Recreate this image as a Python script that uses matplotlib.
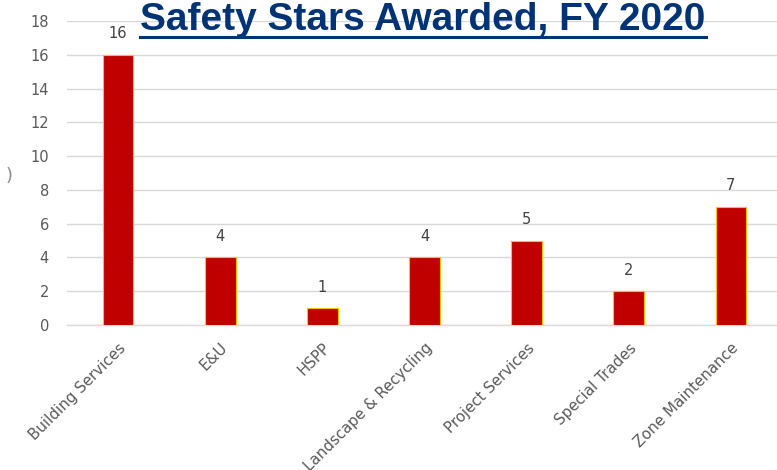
import matplotlib.pyplot as plt
from matplotlib.lines import Line2D

categories = ['Building Services', 'E&U', 'HSPP', 'Landscape & Recycling',
              'Project Services', 'Special Trades', 'Zone Maintenance']
stars = [16, 4, 1, 4, 5, 2, 7]
yticks = [0, 2, 4, 6, 8, 10, 12, 14, 16, 18]

fig = plt.figure(figsize=(7.77, 4.70), dpi=100)
# axes runs a bit past the right edge, like the cropped original
ax = fig.add_axes([67 / 777, 145 / 470, 715 / 777, 304 / 470])

x = range(len(categories))
ax.bar(x, stars, width=0.3, color='#C00000', edgecolor='#FFC000', linewidth=0.8, zorder=3)

for i, v in zip(x, stars):
    ax.text(i, v + 0.8, str(v), ha='center', va='bottom', fontsize=10.5, color='#404040')

ax.set_xlim(-0.5, len(categories) - 0.5)
ax.set_ylim(0, 18)
ax.set_yticks(yticks)
ax.set_yticklabels([str(t) for t in yticks], fontsize=10.5, color='#595959')
ax.set_xticks(list(x))
ax.set_xticklabels(categories, rotation=45, ha='right', rotation_mode='anchor',
                   fontsize=10.8, color='#595959')
ax.tick_params(axis='both', length=0)
ax.tick_params(axis='y', pad=13)
ax.tick_params(axis='x', pad=11)

ax.grid(axis='y', color='#D9D9D9', linewidth=1, zorder=0)
for s in ['top', 'right', 'left']:
    ax.spines[s].set_visible(False)
ax.spines['bottom'].set_color('#D9D9D9')
ax.spines['bottom'].set_linewidth(1)

# remnant of the cropped axis title
fig.text(9 / 777, 1 - 176 / 470, ')', fontsize=13, color='#8C8C8C', ha='center', va='center')

title = fig.text(423 / 777, 1 - 20 / 470, 'Safety Stars Awarded, FY 2020',
                 family=['Liberation Sans', 'DejaVu Sans'], fontweight='bold',
                 fontsize=28, color='#003375', ha='center', va='center')
fig.canvas.draw()
bb = title.get_window_extent().transformed(fig.transFigure.inverted())
fig.add_artist(Line2D([bb.x0, bb.x1], [1 - 37 / 470, 1 - 37 / 470],
                      color='#003375', linewidth=2.2, transform=fig.transFigure))

fig.savefig('out.png', dpi=100, facecolor='white')
